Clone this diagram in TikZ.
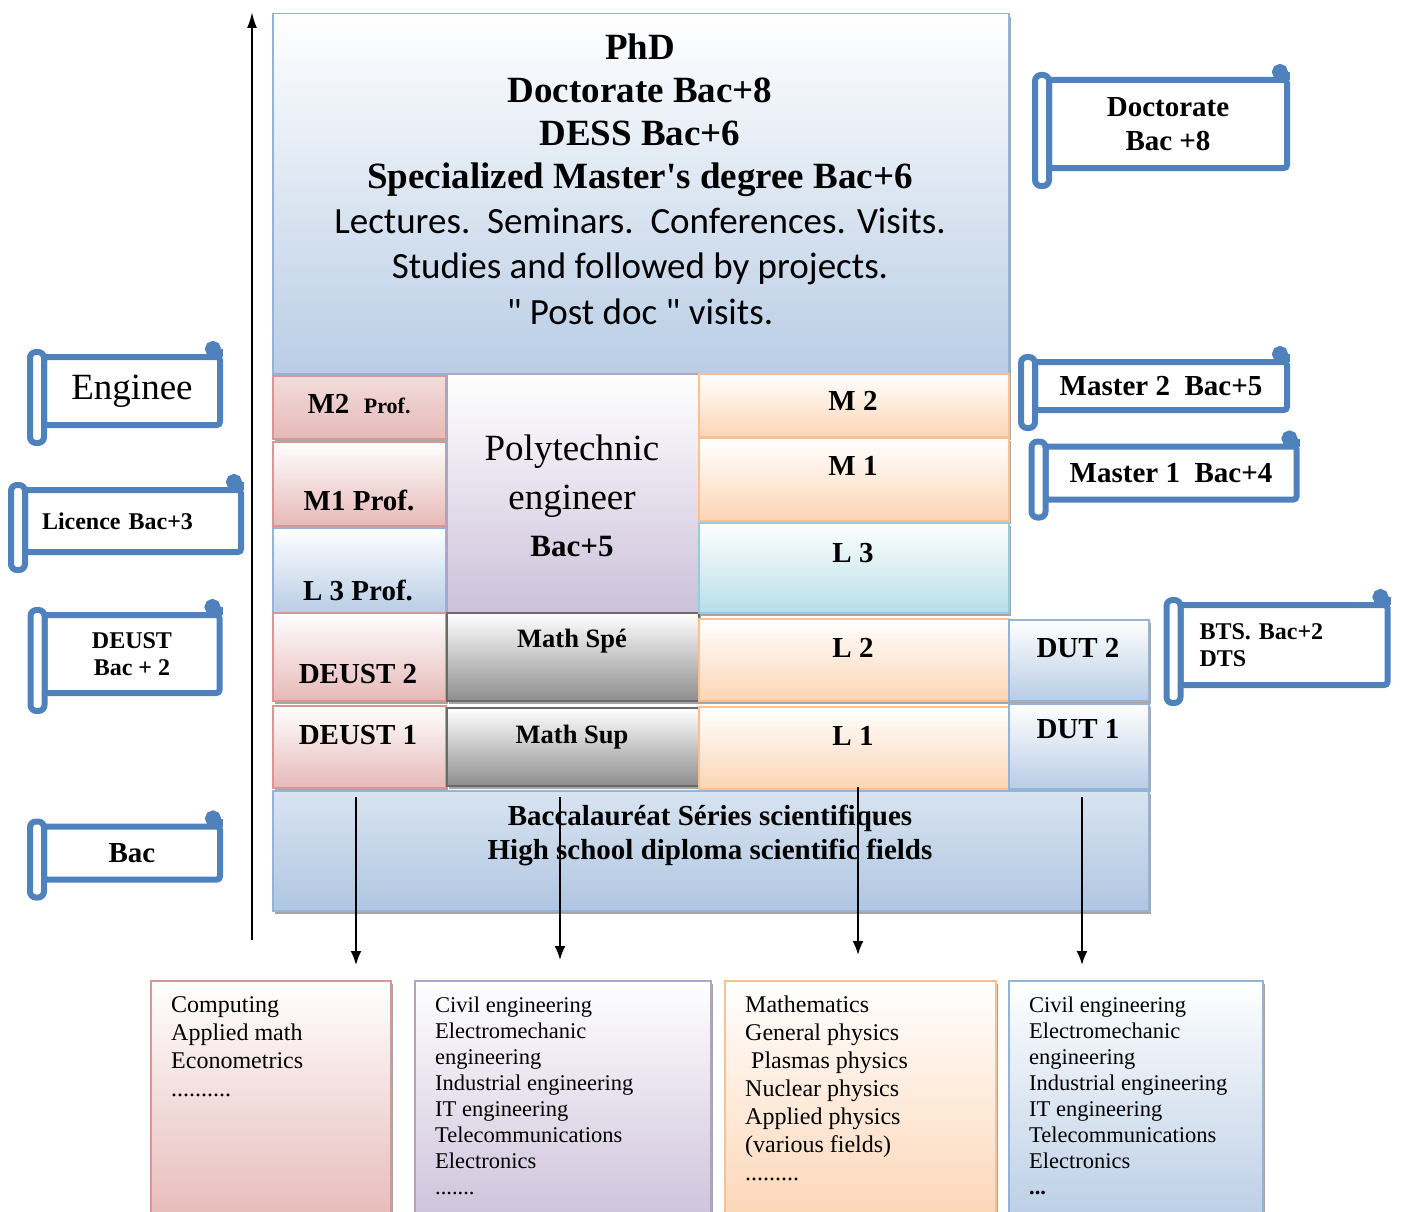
\documentclass[tikz,border=0pt]{standalone}
\usepackage{fontspec}
\setmainfont{Liberation Serif}
\newfontfamily\calibrifont{Carlito}
\usetikzlibrary{arrows.meta,shadows}

\definecolor{scrollblue}{HTML}{4F81BD}
\definecolor{pinkA}{HTML}{F2DCDB}
\definecolor{pinkB}{HTML}{E6B9B8}
\definecolor{pinkC}{HTML}{D99694}
\definecolor{orangeB}{HTML}{FCD5B5}
\definecolor{orangeC}{HTML}{FAC090}
\definecolor{blueB}{HTML}{B9CDE5}
\definecolor{blueC}{HTML}{95B3D7}
\definecolor{purpleB}{HTML}{CCC1DA}
\definecolor{purpleC}{HTML}{B3A2C7}
\definecolor{aquaB}{HTML}{B7DEE8}
\definecolor{aquaC}{HTML}{93CDDD}
\definecolor{grayB}{HTML}{8E8E8E}
\definecolor{grayC}{HTML}{6A6A6A}

\tikzset{
  cell/.style={draw, line width=1.5pt, anchor=north west, inner sep=0pt,
    drop shadow={shadow xshift=2pt, shadow yshift=-3pt, opacity=0.35, fill=black}},
  pinkcell/.style={cell, draw=pinkC, top color=pinkA, bottom color=pinkB},
  rosecell/.style={cell, draw=pinkC, top color=white, bottom color=pinkB},
  orangecell/.style={cell, draw=orangeC, top color=white, bottom color=orangeB},
  bluecell/.style={cell, draw=blueC, top color=white, bottom color=blueB},
  purplecell/.style={cell, draw=purpleC, top color=white, bottom color=purpleB},
  aquacell/.style={cell, draw=aquaC, top color=white, bottom color=aquaB},
  graycell/.style={cell, draw=grayC, top color=white, bottom color=grayB},
  lbl/.style={font=\fontsize{29}{34}\selectfont\bfseries, align=center},
  scroll/.style={draw=scrollblue, line width=6pt, fill=white, rounded corners=3pt,
    align=center, inner sep=3pt, outer sep=0pt},
  scrollline/.style={draw=scrollblue, line width=6pt},
  small/.style={font=\fontsize{24}{27}\selectfont\bfseries},
  list/.style={anchor=north west, inner sep=0pt, align=left},
  arr/.style={-{Latex[length=14pt,width=11pt]}, line width=2pt},
}

\begin{document}
\begin{tikzpicture}[x=1pt,y=-1pt]
  \useasboundingbox (0,0) rectangle (1402,1212);

  % doctorate block
  \node[bluecell, minimum width=736pt, minimum height=360pt] (phd) at (272,13) {};
  \node[font=\fontsize{37}{43}\selectfont\bfseries, align=center] (tPhd) at (640,115)
    {PhD\\Doctorate Bac+8\\DESS Bac+6\\Specialized Master\textquotesingle s degree Bac+6};
  \node[font=\fontsize{37}{45.5}\selectfont\calibrifont, align=center] (tLect) at (640,266)
    {Lectures.\ \ Seminars.\ \ Conferences. Visits.\\Studies and followed by projects.\\" Post doc " visits.};

  % left column
  \node[pinkcell, minimum width=173pt, minimum height=63pt] (mtwoP) at (272,375) {};
  \node[rosecell, minimum width=173pt, minimum height=84pt] (moneP) at (272,441) {};
  \node[bluecell, minimum width=173pt, minimum height=85pt] (lthreeP) at (272,527) {};
  \node[rosecell, minimum width=173pt, minimum height=88pt] (deustTwo) at (272,612) {};
  \node[rosecell, minimum width=173pt, minimum height=82pt] (deustOne) at (272,705) {};

  % middle column
  \node[purplecell, minimum width=252pt, minimum height=239pt] (poly) at (446,373) {};
  \node[graycell, minimum width=252pt, minimum height=88pt] (mathSpe) at (446,612) {};
  \node[graycell, minimum width=252pt, minimum height=78pt] (mathSup) at (446,707) {};

  % right column
  \node[orangecell, minimum width=310pt, minimum height=63pt] (mtwo) at (698,373) {};
  \node[orangecell, minimum width=310pt, minimum height=83pt] (mone) at (698,437) {};
  \node[aquacell, minimum width=310pt, minimum height=90pt] (lthree) at (698,522) {};
  \node[orangecell, minimum width=310pt, minimum height=82pt] (ltwo) at (698,618) {};
  \node[orangecell, minimum width=310pt, minimum height=82pt] (lone) at (698,706) {};
  \node[bluecell, minimum width=140pt, minimum height=81pt] (dutTwo) at (1008,619) {};
  \node[bluecell, minimum width=140pt, minimum height=85pt] (dutOne) at (1008,703) {};

  % bac
  \node[cell, draw=blueC, top color=blueB!55, bottom color=blueC!75, minimum width=876pt, minimum height=120pt] (bac) at (272,790) {};

  % labels of the cells
  \node[lbl] (tMtwoP) at (359,404) {M2\ \ {\fontsize{22}{26}\selectfont Prof.}};
  \node[lbl] (tMoneP) at (359,500) {M1 Prof.};
  \node[lbl] (tLthreeP) at (358,590) {L 3 Prof.};
  \node[lbl] (tDeustTwo) at (358,674) {DEUST 2};
  \node[lbl] (tDeustOne) at (358,735) {DEUST 1};
  \node[font=\fontsize{37}{49}\selectfont, align=center] (tPoly) at (572,476) {Polytechnic\\engineer};
  \node[font=\fontsize{31}{36}\selectfont\bfseries] (tPolyBac) at (572,546) {Bac+5};
  \node[lbl, font=\fontsize{26.5}{30}\selectfont\bfseries] (tMathSpe) at (572,641) {Math Spé};
  \node[lbl, font=\fontsize{26.5}{30}\selectfont\bfseries] (tMathSup) at (572,737) {Math Sup};
  \node[lbl] (tMtwo) at (853,401) {M 2};
  \node[lbl] (tMone) at (853,466) {M 1};
  \node[lbl] (tLthree) at (853,553) {L 3};
  \node[lbl] (tLtwo) at (853,648) {L 2};
  \node[lbl] (tLone) at (853,736) {L 1};
  \node[lbl] (tDutTwo) at (1078,648) {DUT 2};
  \node[lbl] (tDutOne) at (1078,729) {DUT 1};
  \node[lbl] (tBac) at (710,835) {Baccalauréat Séries scientifiques\\High school diploma scientific fields};

  % scrolls
  \node[scroll, minimum width=238pt, minimum height=88pt, lbl] (sDoc) at (1168,124) {Doctorate\\Bac +8};
  \node[scroll, minimum width=176pt, minimum height=68pt, font=\fontsize{37}{40}\selectfont] (sEng) at (132,391) {Enginee};
  \node[scroll, minimum width=216pt, minimum height=62pt, small, text width=182pt, align=left] (sLic) at (133,521) {Licence Bac+3};
  \node[scroll, minimum width=252pt, minimum height=48pt, lbl] (sMtwo) at (1161,386) {Master 2\ \ Bac+5};
  \node[scroll, minimum width=251pt, minimum height=53pt, lbl] (sMone) at (1171,473) {Master 1\ \ Bac+4};
  \node[scroll, minimum width=207pt, minimum height=80pt, small, text width=169pt, align=left] (sBts) at (1284,645) {BTS. Bac+2\\DTS};
  \node[scroll, minimum width=175pt, minimum height=78pt, small] (sDeust) at (132,654) {DEUST\\Bac + 2};
  \node[scroll, minimum width=176pt, minimum height=53pt, lbl] (sBac) at (132,853) {Bac};
  \foreach \s in {sDoc,sEng,sLic,sMtwo,sMone,sBts,sDeust,sBac}{
    \draw[scrollline, fill=white, rounded corners=6pt] ([xshift=-14pt,yshift=5pt]\s.north west) rectangle ([yshift=-18pt]\s.south west);
    \draw[scrollline] (\s.north east) -- ([yshift=8pt]\s.north east);
    \draw[scrollline, fill=scrollblue] ([xshift=-7pt,yshift=8pt]\s.north east) circle (5pt);
  }

  % fields
  \node[rosecell, minimum width=240pt, minimum height=245pt] (fComp) at (150,980) {};
  \node[purplecell, minimum width=296pt, minimum height=245pt] (fPoly) at (414,980) {};
  \node[orangecell, minimum width=271pt, minimum height=245pt] (fPhys) at (724,980) {};
  \node[bluecell, minimum width=254pt, minimum height=245pt] (fDut) at (1008,980) {};
  \node[list, font=\fontsize{24}{28}\selectfont] (tComp) at (171,996)
    {Computing\\Applied math\\Econometrics\\..........};
  \node[list, font=\fontsize{22.5}{26}\selectfont] (tPolyList) at (435,997)
    {Civil engineering\\Electromechanic\\engineering\\Industrial engineering\\IT engineering\\Telecommunications\\Electronics\\.......};
  \node[list, font=\fontsize{24}{28}\selectfont] (tPhys) at (745,996)
    {Mathematics\\General physics\\\hspace*{6pt}Plasmas physics\\Nuclear physics\\Applied physics\\(various fields)\\.........};
  \node[list, font=\fontsize{22.5}{26}\selectfont] (tDut) at (1029,997)
    {Civil engineering\\Electromechanic\\engineering\\Industrial engineering\\IT engineering\\Telecommunications\\Electronics\\\textbf{...}};

  % arrows
  \coordinate (axisBot) at (252,940);
  \coordinate (axisTop) at (252,12);
  \draw[-{Latex[length=16pt,width=10pt]}, line width=2pt] (axisBot) -- (axisTop);
  \coordinate (aComp) at (356,797);
  \coordinate (aPoly) at (560,797);
  \coordinate (aPhys) at (858,787);
  \coordinate (aDut) at (1082,797);
  \draw[arr] (aComp) -- ([yshift=15pt]fComp.north -| aComp);
  \draw[arr] (aPoly) -- ([yshift=20pt]fPoly.north -| aPoly);
  \draw[arr] (aPhys) -- ([yshift=25pt]fPhys.north -| aPhys);
  \draw[arr] (aDut) -- ([yshift=15pt]fDut.north -| aDut);
\end{tikzpicture}
\end{document}
